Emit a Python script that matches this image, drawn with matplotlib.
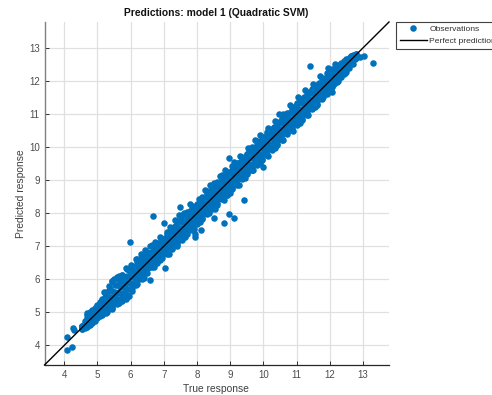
import matplotlib
matplotlib.use('Agg')
import matplotlib.pyplot as plt

plt.rcParams['font.family'] = ['Liberation Sans', 'DejaVu Sans']

# outliers
true_out = [4.08,4.25,4.08,4.29,4.27,6.69,7.00,5.99,7.50,8.13,7.95,7.95,7.05,6.58,
            8.82,9.12,8.95,8.51,9.42,8.95,8.38,11.39,13.30,13.03,12.90,12.06,9.98,10.46]
pred_out = [4.26,3.95,3.86,4.48,4.52,7.91,7.69,7.14,8.19,7.49,7.28,7.38,6.33,5.98,
            7.70,7.84,7.98,7.84,8.39,9.68,8.86,12.45,12.53,12.76,12.72,11.65,9.41,11.00]

# the dense band, one column per true value
true_band = [4.55,4.70,4.85,5.00,5.15,5.30,5.45,5.60,
             5.75,5.90,6.05,6.20,6.35,6.50,6.65,6.80,
             6.95,7.10,7.25,7.40,7.55,7.70,7.85,8.00,
             8.15,8.30,8.45,8.60,8.75,8.90,9.05,9.20,
             9.35,9.50,9.65,9.80,9.95,10.10,10.25,10.40,
             10.55,10.70,10.85,11.00,11.15,11.30,11.45,11.60,
             11.75,11.90,12.05,12.20,12.35,12.50,12.65,12.75]
pred_hi = [4.60,4.93,5.02,5.20,5.38,5.62,5.96,6.04,
           6.14,6.30,6.40,6.52,6.68,6.78,7.00,7.10,
           7.22,7.38,7.50,7.72,7.88,7.98,8.12,8.26,
           8.42,8.60,8.72,8.86,9.02,9.14,9.30,9.50,
           9.62,9.78,9.92,10.10,10.22,10.38,10.52,10.70,
           10.86,10.96,11.14,11.30,11.46,11.58,11.72,11.86,
           12.00,12.14,12.32,12.40,12.52,12.64,12.74,12.78]
pred_up = [4.58,4.84,4.98,5.12,5.28,5.46,5.66,5.82,
           5.95,6.10,6.24,6.38,6.52,6.66,6.82,6.98,
           7.12,7.26,7.42,7.58,7.72,7.88,8.02,8.18,
           8.32,8.48,8.62,8.78,8.94,9.08,9.22,9.38,
           9.52,9.68,9.82,9.98,10.12,10.28,10.42,10.58,
           10.74,10.88,11.04,11.18,11.34,11.48,11.62,11.78,
           11.92,12.06,12.22,12.34,12.46,12.58,12.70,12.78]
pred_mid = [4.55,4.72,4.86,5.02,5.16,5.30,5.46,5.60,
            5.76,5.90,6.06,6.20,6.36,6.50,6.66,6.80,
            6.96,7.10,7.26,7.40,7.56,7.70,7.86,8.00,
            8.16,8.30,8.46,8.60,8.76,8.90,9.06,9.20,
            9.36,9.50,9.66,9.80,9.96,10.10,10.26,10.40,
            10.56,10.70,10.86,11.00,11.16,11.30,11.46,11.60,
            11.76,11.90,12.06,12.20,12.36,12.50,12.66,12.75]
pred_dn = [4.52,4.62,4.76,4.90,5.02,5.14,5.28,5.42,
           5.56,5.70,5.86,6.02,6.18,6.34,6.50,6.64,
           6.78,6.92,7.06,7.22,7.38,7.52,7.66,7.82,
           7.98,8.14,8.30,8.44,8.58,8.72,8.88,9.02,
           9.18,9.32,9.46,9.62,9.78,9.92,10.08,10.22,
           10.38,10.52,10.68,10.82,10.96,11.12,11.28,11.42,
           11.58,11.74,11.92,12.06,12.22,12.38,12.56,12.70]
pred_lo = [4.50,4.55,4.68,4.82,4.92,5.02,5.13,5.26,
           5.36,5.46,5.66,5.86,6.02,6.20,6.36,6.50,
           6.64,6.76,6.92,7.06,7.20,7.36,7.50,7.68,
           7.82,7.98,8.14,8.30,8.44,8.56,8.72,8.86,
           9.02,9.18,9.32,9.46,9.62,9.76,9.92,10.06,
           10.22,10.38,10.54,10.70,10.84,10.98,11.14,11.28,
           11.44,11.60,11.80,11.96,12.12,12.28,12.50,12.66]
# outer edges of the band
edge_hi = [4.60,4.98,5.07,5.22,5.42,5.63,5.95,6.06,
           6.13,6.32,6.41,6.60,6.71,6.82,7.03,7.10,
           7.22,7.42,7.55,7.76,7.93,8.04,8.21,8.28,
           8.48,8.67,8.75,8.95,9.15,9.24,9.43,9.52,
           9.71,9.78,10.01,10.18,10.29,10.46,10.55,10.75,
           10.85,11.04,11.21,11.32,11.45,11.66,11.75,11.88,
           12.09,12.23,12.35,12.44,12.55,12.65,12.75,12.78]
edge_lo = [4.51,4.60,4.71,4.86,4.95,5.06,5.19,5.32,
           5.45,5.53,5.75,5.94,6.09,6.30,6.41,6.54,
           6.73,6.80,6.95,7.14,7.25,7.42,7.57,7.74,
           7.85,8.06,8.17,8.26,8.45,8.54,8.75,8.88,
           9.05,9.22,9.32,9.50,9.65,9.75,9.97,10.08,
           10.25,10.42,10.55,10.66,10.82,11.00,11.17,11.30,
           11.51,11.64,11.85,12.02,12.19,12.36,12.57,12.70]

# second set of columns between the first, fills the gaps
true_fill = [4.63,4.78,4.93,5.08,5.23,5.38,5.53,5.68,
             5.83,5.98,6.13,6.28,6.43,6.58,6.73,6.88,
             7.03,7.18,7.33,7.48,7.63,7.78,7.93,8.08,
             8.23,8.38,8.53,8.68,8.83,8.98,9.13,9.28,
             9.43,9.58,9.73,9.88,10.03,10.18,10.33,10.48,
             10.63,10.78,10.93,11.08,11.23,11.38,11.53,11.68,
             11.83,11.98,12.13,12.28,12.43,12.58,12.70,12.80]
fill_a = [4.75,5.00,5.12,5.30,5.48,5.70,5.82,5.95,
          6.08,6.25,6.36,6.50,6.66,6.80,6.96,7.10,
          7.26,7.42,7.60,7.76,7.90,8.06,8.18,8.34,
          8.48,8.64,8.80,8.94,9.08,9.24,9.38,9.54,
          9.68,9.84,9.98,10.14,10.30,10.44,10.60,10.74,
          10.88,11.04,11.20,11.36,11.50,11.64,11.80,11.94,
          12.06,12.20,12.34,12.48,12.60,12.70,12.78,12.80]
fill_b = [4.68,4.86,5.00,5.16,5.32,5.46,5.62,5.76,
          5.92,6.06,6.22,6.36,6.52,6.66,6.82,6.96,
          7.12,7.26,7.42,7.56,7.72,7.86,8.02,8.16,
          8.32,8.46,8.62,8.76,8.92,9.06,9.22,9.36,
          9.52,9.66,9.82,9.96,10.12,10.26,10.42,10.56,
          10.72,10.86,11.02,11.16,11.32,11.46,11.62,11.76,
          11.92,12.06,12.22,12.36,12.50,12.64,12.76,12.82]
fill_c = [4.58,4.70,4.85,5.00,5.15,5.30,5.45,5.60,
          5.75,5.90,6.05,6.20,6.35,6.50,6.65,6.80,
          6.95,7.10,7.25,7.40,7.55,7.70,7.85,8.00,
          8.15,8.30,8.45,8.60,8.75,8.90,9.05,9.20,
          9.35,9.50,9.65,9.80,9.95,10.10,10.25,10.40,
          10.55,10.70,10.85,11.00,11.15,11.30,11.45,11.60,
          11.75,11.90,12.05,12.20,12.35,12.50,12.62,12.72]
fill_d = [4.52,4.62,4.74,4.88,5.02,5.16,5.30,5.42,
          5.58,5.72,5.88,6.04,6.20,6.36,6.50,6.66,
          6.80,6.94,7.10,7.24,7.40,7.54,7.70,7.86,
          8.00,8.16,8.30,8.46,8.60,8.76,8.90,9.06,
          9.20,9.36,9.50,9.66,9.80,9.96,10.10,10.26,
          10.42,10.56,10.72,10.86,11.02,11.16,11.32,11.46,
          11.62,11.78,11.92,12.08,12.22,12.38,12.52,12.68]

# single points that stick out of the band edges
bump_up_x = [5.20,5.35,5.50,5.65,5.85,6.00,6.15,6.30,6.45,6.60,6.75,6.90,7.20,7.35,7.45,7.60,
             7.80,8.05,8.25,8.50,8.70,8.85,9.10,9.30,9.55,9.75,9.90,10.15,10.35,10.60,10.80,
             11.05,11.25,11.50,11.70,11.95,12.15]
bump_up_y = [5.62,5.80,6.00,6.10,6.33,6.42,6.62,6.76,6.88,7.02,7.12,7.28,7.58,7.78,7.95,8.02,
             8.28,8.42,8.70,8.92,9.12,9.30,9.55,9.72,9.98,10.22,10.35,10.58,10.80,11.00,11.28,
             11.50,11.72,11.92,12.15,12.38,12.52]
bump_dn_x = [5.25,5.45,5.65,5.85,5.95,6.15,6.40,6.70,6.90,7.15,7.40,7.65,7.90,8.10,8.35,8.55,
             8.80,9.00,9.25,9.45,9.70,9.90,10.15,10.35,10.60,10.90,11.10,11.35,11.55,11.80,
             12.00,12.25,12.45]
bump_dn_y = [4.98,5.10,5.28,5.42,5.50,5.82,6.05,6.38,6.58,6.78,7.02,7.28,7.52,7.72,8.00,8.14,
             8.40,8.60,8.86,9.05,9.30,9.52,9.74,9.98,10.22,10.48,10.72,10.98,11.20,11.50,
             11.72,12.00,12.25]

ticks = [4,5,6,7,8,9,10,11,12,13]
lims = [3.41,13.78]

W, H = 492, 395
fig = plt.figure(figsize=(W/100, H/100), dpi=100)
ax = fig.add_axes([44.5/W, 1-365/H, 344.5/W, 343/H])

xs = true_out + true_band*7 + true_fill*4 + bump_up_x + bump_dn_x
ys = (pred_out + pred_hi + pred_up + pred_mid + pred_dn + pred_lo + edge_hi + edge_lo
      + fill_a + fill_b + fill_c + fill_d + bump_up_y + bump_dn_y)
ax.plot(xs, ys, 'o', color='#0072BD', ms=4.7, mew=0, label='Observations', zorder=3)
ax.plot(lims, lims, color='black', lw=1.0, label='Perfect prediction', zorder=4, clip_on=False)

ax.set_xlim(lims)
ax.set_ylim(lims)
ax.set_xticks(ticks)
ax.set_yticks(ticks)
ax.grid(True, color='#e0e0e0', lw=0.9)
ax.set_axisbelow(True)
ax.tick_params(direction='in', length=3, width=0.7, color='#303030', labelcolor='#4d4d4d',
               labelsize=7, pad=3.4)
for s in ['top','right']:
    ax.spines[s].set_visible(False)
ax.spines['left'].set_color('#808080')
ax.spines['left'].set_linewidth(1.0)
ax.spines['bottom'].set_color('#262626')
ax.spines['bottom'].set_linewidth(0.9)

fig.text(216/W, 1-13/H, 'Predictions: model 1 (Quadratic SVM)', ha='center', va='center',
         fontsize=7.4, fontweight='bold', color='#111111')
fig.text(216/W, 1-389/H, 'True response', ha='center', va='center', fontsize=7.4, color='#404040')
fig.text(21/W, 1-194/H, 'Predicted response', ha='center', va='center', rotation=90,
         fontsize=7.4, color='#404040')

ax.legend(loc='upper left', bbox_to_anchor=(396/W, 1-21.5/H), bbox_transform=fig.transFigure,
          borderaxespad=0, fontsize=6.1, fancybox=False, framealpha=1, edgecolor='#404040',
          labelcolor='#303030', borderpad=0.45, labelspacing=0.45, handlelength=3.2,
          handletextpad=0.3, numpoints=1).get_frame().set_linewidth(0.8)

fig.savefig('out.png', dpi=100)
